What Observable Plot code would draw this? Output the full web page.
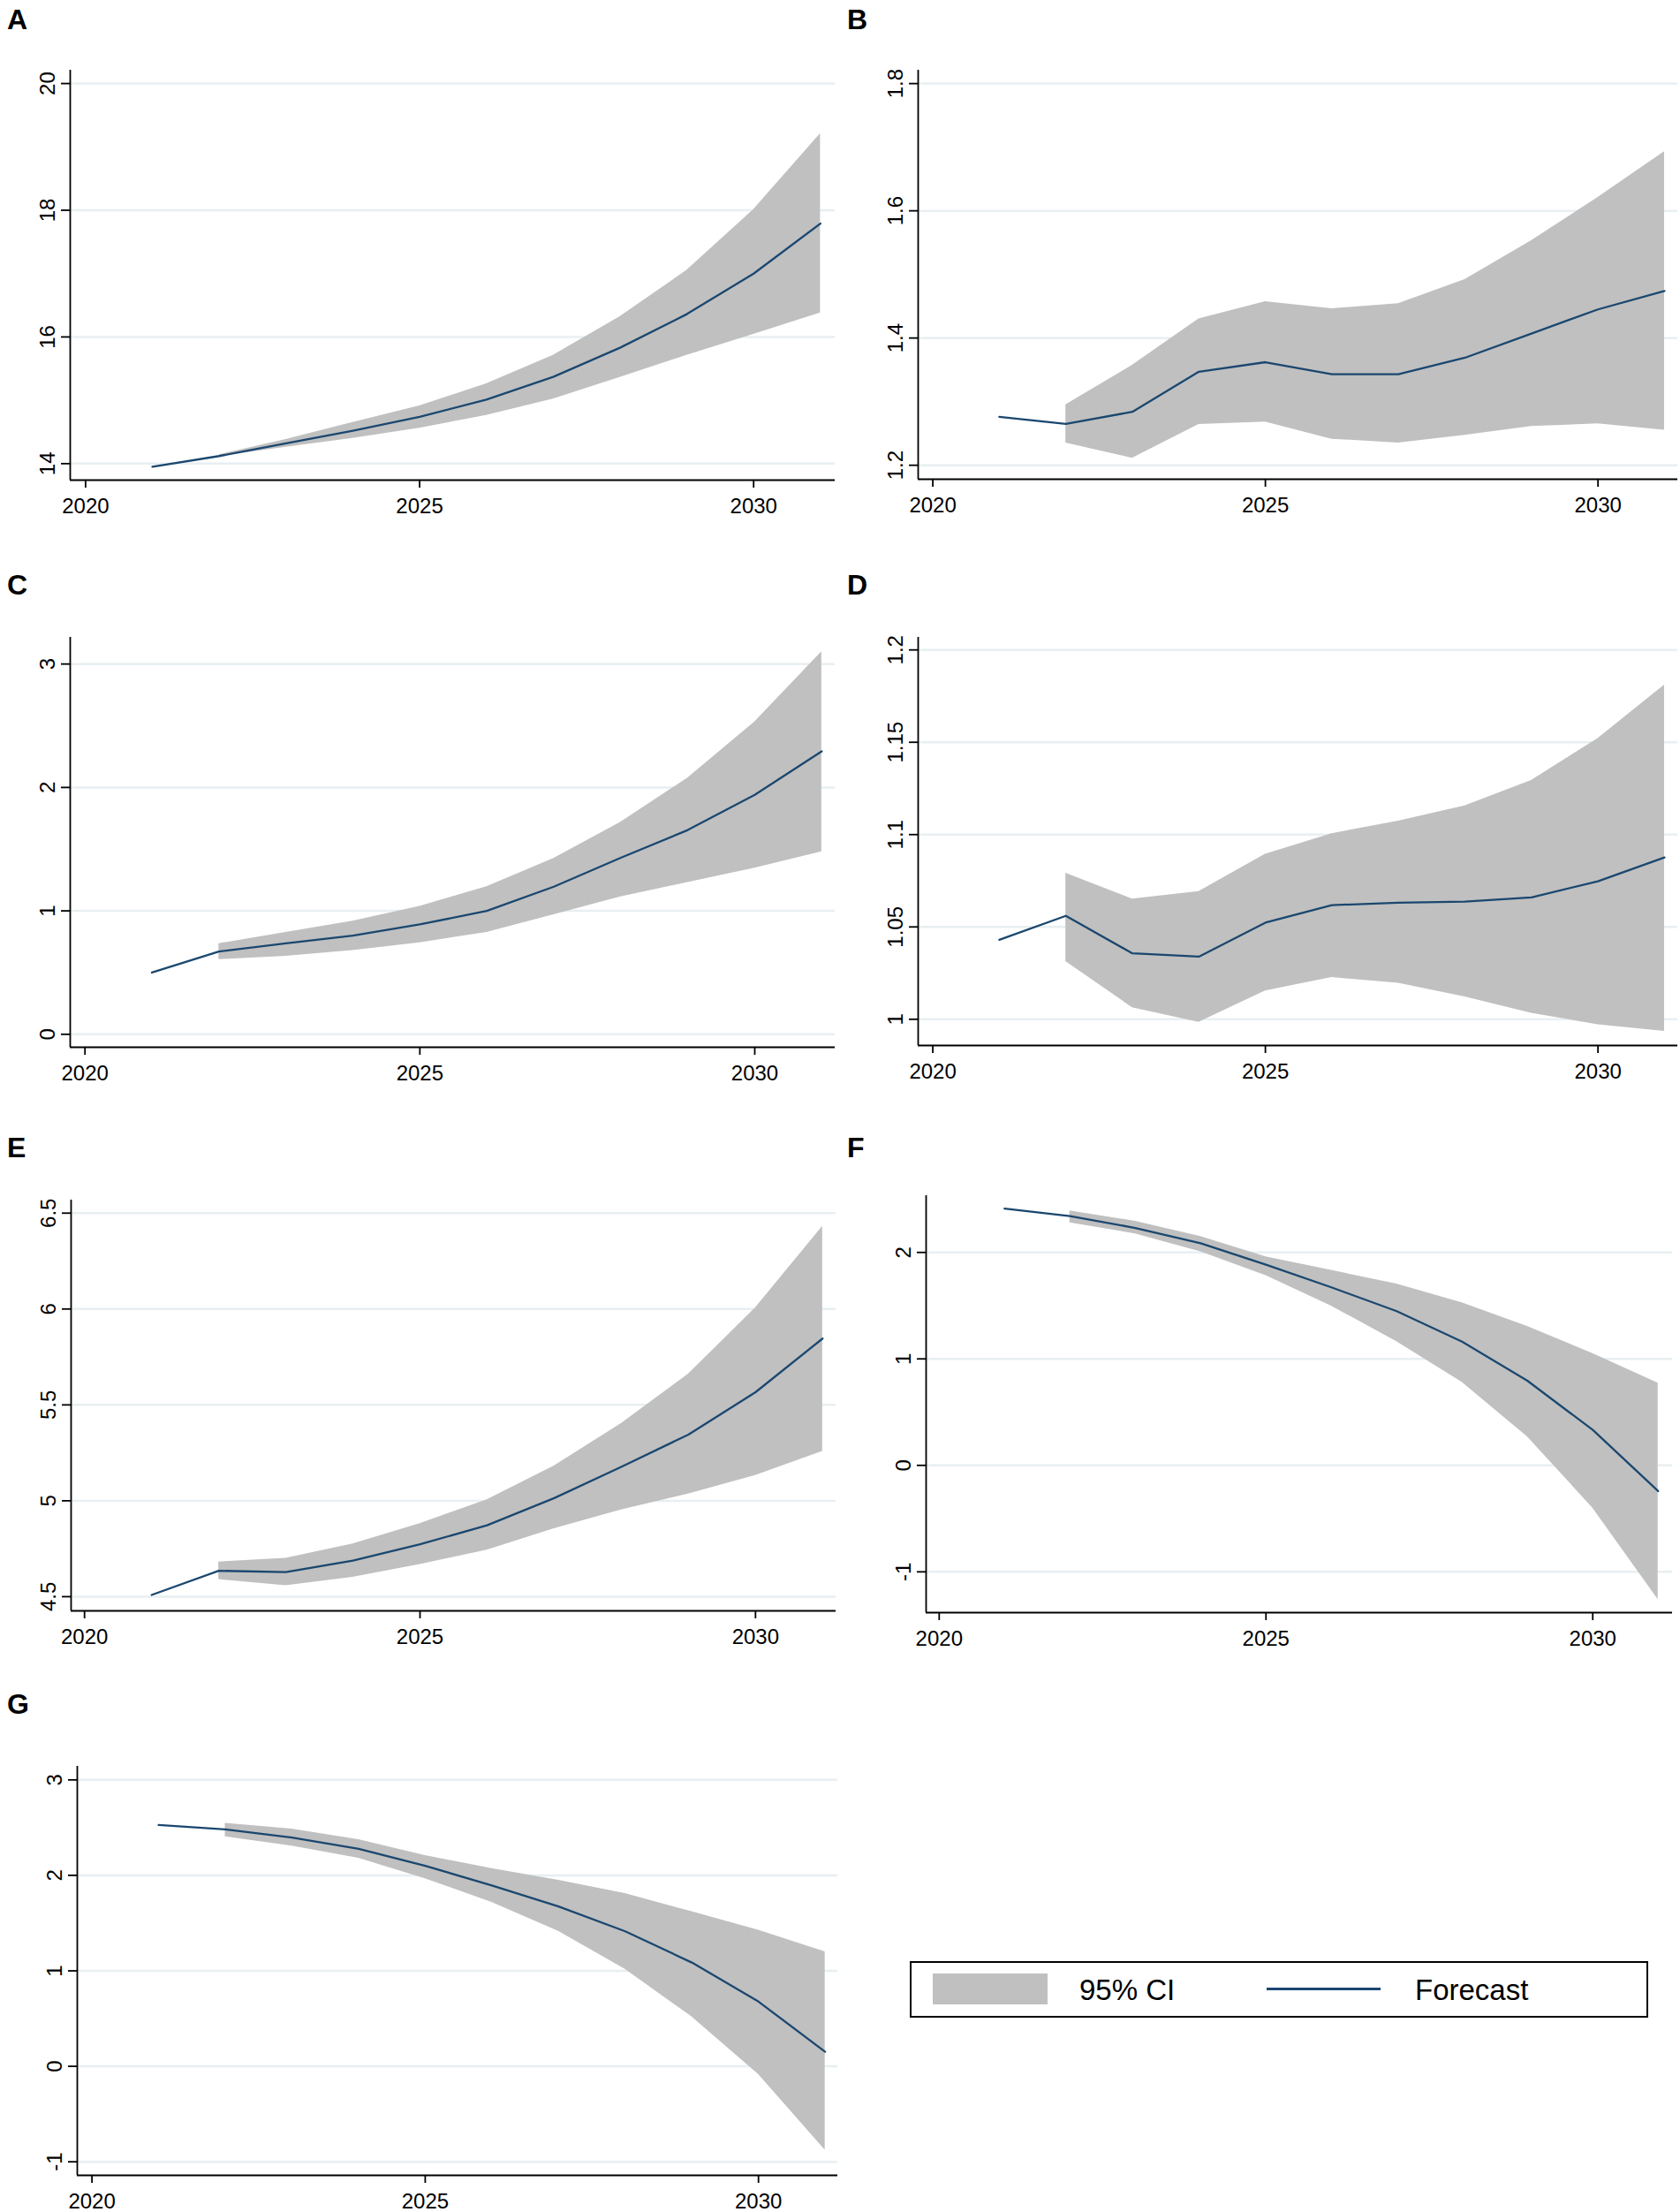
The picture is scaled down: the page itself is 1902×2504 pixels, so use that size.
<!DOCTYPE html>
<html>
<head>
<meta charset="utf-8">
<script src="https://cdn.jsdelivr.net/npm/d3@7"></script>
<script src="https://cdn.jsdelivr.net/npm/@observablehq/plot@0.6"></script>
<style>
  html, body { margin: 0; padding: 0; background: #fff; }
  #page { position: relative; width: 1902px; height: 2504px; background: #fff; font-family: "Liberation Sans", Arial, sans-serif; }
  .cell { position: absolute; }
  .letter { position: absolute; font-weight: bold; font-size: 32px; line-height: 1; color: #000; }
  .cell svg g[aria-label="y-axis tick"] path, .cell svg g[aria-label="x-axis tick"] path { stroke-width: 1.8; }
  #legend { position: absolute; left: 1030px; top: 2220px; width: 832px; height: 60px; border: 2px solid #000; box-sizing: content-box; }
  .lg { position: absolute; }
  .lgtext { position: absolute; font-size: 33px; line-height: 1; top: 14px; color: #000; }
</style>
</head>
<body>
<div id="page"></div>
<script>
// ---- data ----
const years = [2021, 2022, 2023, 2024, 2025, 2026, 2027, 2028, 2029, 2030, 2031];
const ciYears = [2022, 2023, 2024, 2025, 2026, 2027, 2028, 2029, 2030, 2031];
const xTicks = [2020, 2025, 2030];

const aForecast = [13.95, 14.12, 14.32, 14.52, 14.74, 15.01, 15.37, 15.83, 16.36, 17.0, 17.79];
const aUpper = [14.14, 14.38, 14.65, 14.91, 15.26, 15.71, 16.32, 17.05, 18.01, 19.21];
const aLower = [14.11, 14.26, 14.40, 14.56, 14.76, 15.02, 15.36, 15.71, 16.04, 16.38];
const aTicks = [14, 16, 18, 20];

const bForecast = [1.276, 1.265, 1.284, 1.347, 1.362, 1.343, 1.343, 1.369, 1.407, 1.445, 1.474];
const bUpper = [1.295, 1.357, 1.430, 1.457, 1.446, 1.454, 1.492, 1.553, 1.621, 1.693];
const bLower = [1.235, 1.211, 1.264, 1.268, 1.241, 1.235, 1.247, 1.261, 1.265, 1.255];
const bTicks = [1.2, 1.4, 1.6, 1.8];

const cForecast = [0.50, 0.67, 0.737, 0.80, 0.89, 1.0, 1.196, 1.43, 1.655, 1.94, 2.293];
const cUpper = [0.734, 0.825, 0.916, 1.037, 1.196, 1.424, 1.719, 2.076, 2.53, 3.10];
const cLower = [0.605, 0.632, 0.679, 0.742, 0.825, 0.968, 1.114, 1.229, 1.347, 1.479];
const cTicks = [0, 1, 2, 3];

const dForecast = [1.043, 1.056, 1.0357, 1.0339, 1.0523, 1.0618, 1.0631, 1.0637, 1.066, 1.0747, 1.0876];
const dUpper = [1.0791, 1.0651, 1.0692, 1.0894, 1.1005, 1.1073, 1.1156, 1.1293, 1.152, 1.181];
const dLower = [1.0313, 1.0063, 0.9983, 1.0153, 1.0226, 1.0195, 1.0121, 1.0033, 0.997, 0.9934];
const dTicks = [1, 1.05, 1.1, 1.15, 1.2];

const eForecast = [4.509, 4.635, 4.628, 4.688, 4.773, 4.872, 5.014, 5.177, 5.345, 5.566, 5.846];
const eUpper = [4.681, 4.70, 4.775, 4.881, 5.005, 5.182, 5.403, 5.66, 6.006, 6.431];
const eLower = [4.589, 4.557, 4.601, 4.668, 4.743, 4.854, 4.952, 5.035, 5.132, 5.258];
const eTicks = [4.5, 5, 5.5, 6, 6.5];

const fForecast = [2.411, 2.341, 2.23, 2.086, 1.885, 1.672, 1.448, 1.162, 0.795, 0.333, -0.241];
const fUpper = [2.389, 2.293, 2.15, 1.959, 1.831, 1.704, 1.528, 1.305, 1.05, 0.773];
const fLower = [2.277, 2.175, 2.006, 1.783, 1.496, 1.162, 0.78, 0.268, -0.401, -1.261];
const fTicks = [-1, 0, 1, 2];

const gForecast = [2.527, 2.481, 2.396, 2.278, 2.10, 1.894, 1.674, 1.414, 1.087, 0.678, 0.152];
const gUpper = [2.545, 2.484, 2.374, 2.207, 2.072, 1.948, 1.809, 1.62, 1.425, 1.20];
const gLower = [2.403, 2.307, 2.179, 1.965, 1.716, 1.414, 1.016, 0.518, -0.086, -0.879];
const gTicks = [-1, 0, 1, 2, 3];

const panelLetters = ["A", "B", "C", "D", "E", "F", "G"];

// ---- layout & style ----
const BAND = "#c0c0c0";
const LINE = "#1a476f";
const GRID = "#e8eff2";
const W = 951, H = 600;

const panels = [
  {letter: "A", fc: aForecast, up: aUpper, lo: aLower, ticks: aTicks, ydom: [13.74, 20.21], xdom: [2019.77, 2031.22], cx: 0,   cy: 0,    l: 79, r: 945, t: 79, b: 543, ly: 10},
  {letter: "B", fc: bForecast, up: bUpper, lo: bLower, ticks: bTicks, ydom: [1.178, 1.821], xdom: [2019.78, 2031.2], cx: 951, cy: 0,    l: 88, r: 948, t: 79, b: 542, ly: 10},
  {letter: "C", fc: cForecast, up: cUpper, lo: cLower, ticks: cTicks, ydom: [-0.105, 3.216], xdom: [2019.78, 2031.2], cx: 0,   cy: 640,  l: 79, r: 945, t: 81, b: 545, ly: 10},
  {letter: "D", fc: dForecast, up: dUpper, lo: dLower, ticks: dTicks, ydom: [0.9858, 1.2068], xdom: [2019.78, 2031.2], cx: 951, cy: 640,  l: 88, r: 948, t: 81, b: 543, ly: 10},
  {letter: "E", fc: eForecast, up: eUpper, lo: eLower, ticks: eTicks, ydom: [4.426, 6.568], xdom: [2019.8, 2031.2], cx: 0,   cy: 1280, l: 80, r: 946, t: 78, b: 543, ly: 7},
  {letter: "F", fc: fForecast, up: fUpper, lo: fLower, ticks: fTicks, ydom: [-1.383, 2.533], xdom: [2019.8, 2031.22], cx: 951, cy: 1280, l: 97, r: 942, t: 73, b: 545, ly: 7},
  {letter: "G", fc: gForecast, up: gUpper, lo: gLower, ticks: gTicks, ydom: [-1.142, 3.142], xdom: [2019.78, 2031.19], cx: 0,   cy: 1904, l: 87, r: 948, t: 95, b: 558, ly: 13}
];

const page = document.getElementById("page");
const fmt = d => String(d);

for (const p of panels) {
  const lineData = years.map((yr, i) => ({year: yr, v: p.fc[i]}));
  const bandData = ciYears.map((yr, i) => ({year: yr, lo: p.lo[i], up: p.up[i]}));
  const chart = Plot.plot({
    width: W,
    height: H,
    marginLeft: p.l,
    marginRight: W - p.r,
    marginTop: p.t,
    marginBottom: H - p.b,
    style: {fontFamily: "'Liberation Sans', Arial, sans-serif", fontSize: "24px", background: "transparent", color: "#000", overflow: "visible"},
    x: {domain: p.xdom, ticks: xTicks, tickFormat: fmt, tickSize: 9, tickPadding: 11, label: null},
    y: {domain: p.ydom, ticks: p.ticks, tickFormat: fmt, tickSize: 10, tickPadding: 8, tickRotate: -90, label: null},
    marks: [
      Plot.ruleY(p.ticks, {stroke: GRID, strokeWidth: 2.5}),
      Plot.areaY(bandData, {x: "year", y1: "lo", y2: "up", fill: BAND}),
      Plot.lineY(lineData, {x: "year", y: "v", stroke: LINE, strokeWidth: 2.3}),
      Plot.ruleX([p.xdom[0]], {stroke: "#000", strokeWidth: 1.8}),
      Plot.ruleY([p.ydom[0]], {stroke: "#000", strokeWidth: 1.8})
    ]
  });
  const cell = document.createElement("div");
  cell.className = "cell";
  cell.style.left = p.cx + "px";
  cell.style.top = p.cy + "px";
  cell.appendChild(chart);
  page.appendChild(cell);

  const lab = document.createElement("div");
  lab.className = "letter";
  lab.textContent = p.letter;
  lab.style.left = (p.cx + 8) + "px";
  lab.style.top = (p.cy + p.ly - 4) + "px";
  page.appendChild(lab);
}

// ---- legend ----
const legend = document.createElement("div");
legend.id = "legend";
legend.innerHTML = `
  <div class="lg" style="left:24px; top:12px; width:130px; height:35px; background:${BAND};"></div>
  <div class="lgtext" style="left:190px;">95% CI</div>
  <div class="lg" style="left:402px; top:28px; width:129px; height:3px; background:${LINE};"></div>
  <div class="lgtext" style="left:570px;">Forecast</div>`;
page.appendChild(legend);
</script>
</body>
</html>
